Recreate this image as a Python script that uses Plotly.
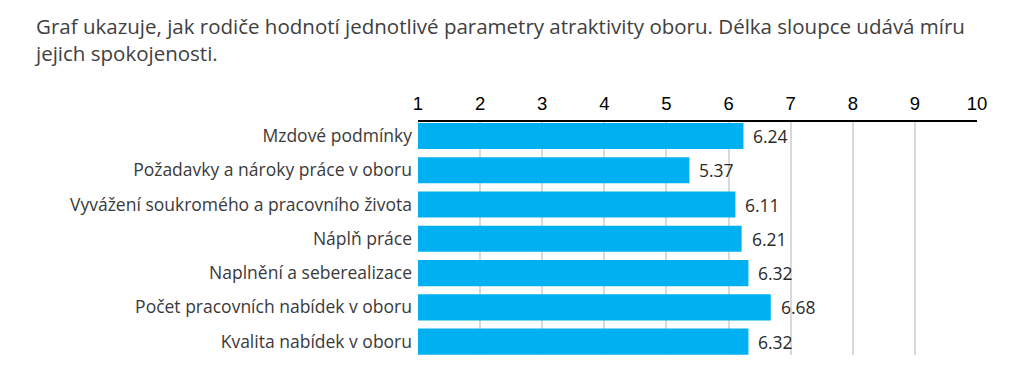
import plotly.graph_objects as go

categories = [
    "Mzdové podmínky",
    "Požadavky a nároky práce v oboru",
    "Vyvážení soukromého a pracovního života",
    "Náplň práce",
    "Naplnění a seberealizace",
    "Počet pracovních nabídek v oboru",
    "Kvalita nabídek v oboru",
]
values = [6.24, 5.37, 6.11, 6.21, 6.32, 6.68, 6.32]
tick_vals = [1, 2, 3, 4, 5, 6, 7, 8, 9, 10]
title_text = ("Graf ukazuje, jak rodiče hodnotí jednotlivé parametry atraktivity oboru. "
              "Délka sloupce udává míru<br>jejich spokojenosti.")

W, H = 1024, 367
ML, MR, MT, MB = 410, 55, 114, 20
pw, ph = W - ML - MR, H - MT - MB
off = 8  # page body margin

base = 1
fig = go.Figure()
fig.add_trace(go.Bar(
    y=categories,
    x=[v - base for v in values],
    base=base,
    orientation="h",
    marker=dict(color="#00B0F0", line=dict(width=0)),
    width=0.76,
    hoverinfo="skip",
))

for c, v in zip(categories, values):
    fig.add_annotation(
        x=v, y=c, text=f"{v:.2f}", showarrow=False,
        xanchor="left", yanchor="middle", xshift=8,
        font=dict(family="Open Sans", size=17.5, color="#2a2a2a"),
    )

fig.add_annotation(
    text=title_text, xref="paper", yref="paper",
    x=(32 - off - ML) / pw, y=1 + (MT + off - 10) / ph,
    xanchor="left", yanchor="top", align="left", showarrow=False,
    font=dict(family="Open Sans", size=20.5, color="#404040"),
)

fig.update_layout(
    width=W, height=H,
    margin=dict(l=ML, r=MR, t=MT, b=MB, autoexpand=False),
    paper_bgcolor="white", plot_bgcolor="white",
    showlegend=False,
    xaxis=dict(
        side="top", range=[1, 10], tickvals=tick_vals,
        showgrid=True, gridcolor="#d9d9d9", gridwidth=1.5,
        showline=True, linecolor="#000000", linewidth=2,
        ticks="", zeroline=False, automargin=False,
        tickfont=dict(family="Liberation Sans, Arial", size=18.5, color="#000000"),
        ticklabelstandoff=3,
    ),
    yaxis=dict(
        type="category", categoryorder="array", categoryarray=categories,
        range=[6.39, -0.41], automargin=False,
        showgrid=False, showline=False, ticks="",
        tickfont=dict(family="Open Sans", size=17.5, color="#3a3a3a"),
        ticklabelstandoff=5,
    ),
)

fig.write_html("out.html")
